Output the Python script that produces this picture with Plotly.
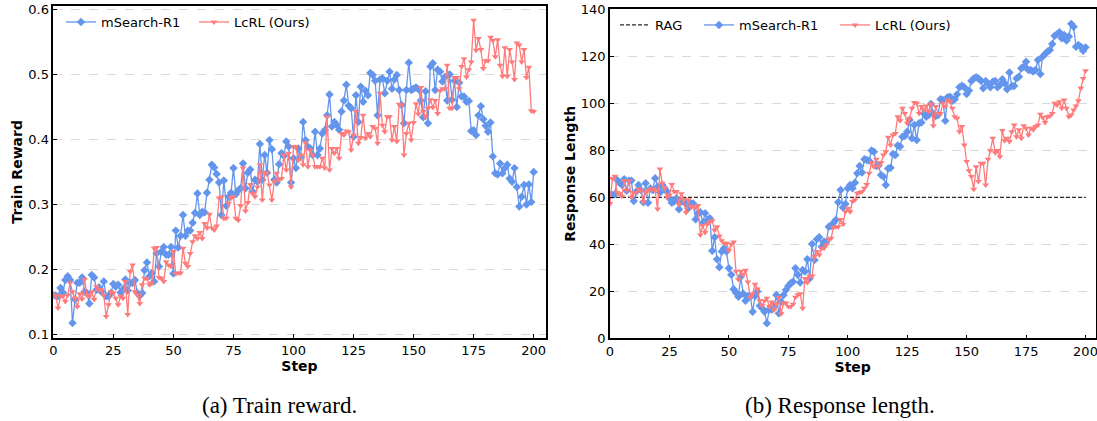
import plotly.graph_objects as go

steps = list(range(201))

reward_msearch = [
    0.161, 0.16, 0.159, 0.172, 0.165, 0.184, 0.19, 0.184, 0.118, 0.154,
    0.18, 0.18, 0.188, 0.166, 0.164, 0.148, 0.192, 0.188, 0.169, 0.173,
    0.166, 0.182, 0.159, 0.159, 0.164, 0.178, 0.174, 0.177, 0.165, 0.17,
    0.185, 0.168, 0.179, 0.18, 0.184, 0.164, 0.16, 0.164, 0.199, 0.211,
    0.19, 0.195, 0.182, 0.225, 0.205, 0.228, 0.235, 0.223, 0.223, 0.235,
    0.194, 0.26, 0.234, 0.252, 0.284, 0.252, 0.26, 0.26, 0.272, 0.287,
    0.317, 0.284, 0.289, 0.288, 0.318, 0.338, 0.361, 0.357, 0.347, 0.334,
    0.284, 0.337, 0.298, 0.312, 0.318, 0.356, 0.316, 0.322, 0.325, 0.363,
    0.325, 0.349, 0.354, 0.32, 0.338, 0.335, 0.393, 0.338, 0.376, 0.349,
    0.399, 0.385, 0.338, 0.334, 0.362, 0.379, 0.375, 0.397, 0.389, 0.334,
    0.371, 0.356, 0.386, 0.373, 0.427, 0.399, 0.389, 0.386, 0.376, 0.412,
    0.376, 0.386, 0.409, 0.414, 0.437, 0.469, 0.42, 0.427, 0.422, 0.415,
    0.443, 0.46, 0.484, 0.452, 0.448, 0.404, 0.468, 0.427, 0.481, 0.458,
    0.475, 0.468, 0.502, 0.499, 0.49, 0.437, 0.492, 0.494, 0.471, 0.49,
    0.504, 0.478, 0.492, 0.499, 0.476, 0.453, 0.425, 0.476, 0.518, 0.476,
    0.478, 0.48, 0.477, 0.46, 0.434, 0.474, 0.425, 0.512, 0.517, 0.476,
    0.507, 0.504, 0.489, 0.496, 0.46, 0.5, 0.461, 0.49, 0.45, 0.487,
    0.466, 0.466, 0.458, 0.459, 0.413, 0.414, 0.407, 0.437, 0.451, 0.431,
    0.421, 0.412, 0.426, 0.374, 0.348, 0.346, 0.363, 0.348, 0.356, 0.361,
    0.34, 0.335, 0.356, 0.327, 0.297, 0.312, 0.33, 0.3, 0.331, 0.304,
    0.35,
]

reward_lcrl = [
    0.161, 0.16, 0.141, 0.159, 0.159, 0.151, 0.161, 0.18, 0.166, 0.156,
    0.143, 0.163, 0.155, 0.185, 0.161, 0.159, 0.166, 0.154, 0.174, 0.169,
    0.169, 0.161, 0.128, 0.146, 0.166, 0.164, 0.156, 0.146, 0.159, 0.156,
    0.182, 0.131, 0.197, 0.207, 0.166, 0.161, 0.148, 0.177, 0.187, 0.186,
    0.177, 0.179, 0.233, 0.234, 0.188, 0.187, 0.182, 0.212, 0.207, 0.205,
    0.228, 0.194, 0.195, 0.195, 0.233, 0.21, 0.205, 0.225, 0.243, 0.252,
    0.248, 0.257, 0.248, 0.271, 0.264, 0.285, 0.264, 0.261, 0.267, 0.31,
    0.312, 0.279, 0.279, 0.302, 0.31, 0.312, 0.279, 0.276, 0.298, 0.356,
    0.29, 0.303, 0.331, 0.317, 0.312, 0.327, 0.361, 0.307, 0.348, 0.349,
    0.33, 0.307, 0.335, 0.348, 0.338, 0.34, 0.376, 0.353, 0.379, 0.327,
    0.389, 0.389, 0.368, 0.376, 0.361, 0.395, 0.358, 0.384, 0.376, 0.358,
    0.358, 0.358, 0.371, 0.356, 0.435, 0.353, 0.386, 0.379, 0.386, 0.371,
    0.409, 0.407, 0.413, 0.412, 0.384, 0.407, 0.443, 0.394, 0.403, 0.437,
    0.402, 0.409, 0.404, 0.42, 0.417, 0.394, 0.471, 0.422, 0.412, 0.435,
    0.435, 0.399, 0.42, 0.397, 0.454, 0.453, 0.376, 0.409, 0.425, 0.399,
    0.426, 0.455, 0.439, 0.48, 0.443, 0.434, 0.448, 0.461, 0.449, 0.46,
    0.44, 0.475, 0.478, 0.478, 0.514, 0.448, 0.448, 0.495, 0.495, 0.478,
    0.512, 0.524, 0.496, 0.507, 0.519, 0.583, 0.537, 0.555, 0.538, 0.509,
    0.521, 0.521, 0.557, 0.552, 0.527, 0.553, 0.514, 0.497, 0.541, 0.497,
    0.538, 0.519, 0.492, 0.548, 0.545, 0.519, 0.538, 0.495, 0.511, 0.444,
    0.443,
]

length_msearch = [
    61, 61, 61.3, 67.4, 66.2, 65.2, 67.7, 62.8, 67.1, 67.1,
    58.4, 62.4, 65.2, 63.1, 57.9, 66, 57.7, 63.8, 63.1, 68.1,
    64.5, 62, 65.2, 63.8, 62.4, 59.6, 57.7, 58.2, 59.6, 54.9,
    58.2, 58.2, 57.2, 55.3, 57.4, 57.4, 50.6, 53.2, 53.6, 49.2,
    53.2, 50.4, 51.1, 37.3, 43, 33.6, 30.2, 36.9, 38.3, 36.9,
    29.8, 27, 20.9, 19.4, 17.7, 26.2, 19.1, 16, 18, 17.7,
    11.3, 18, 19.9, 13.8, 12.8, 11.3, 6.4, 12.3, 12.3, 13.5,
    18.4, 10.6, 15.6, 18.4, 20.6, 22.3, 23.4, 24.1, 29.8, 27,
    23.7, 29.1, 28.4, 33.6, 25.5, 40.1, 33.3, 42.1, 43, 39,
    41.1, 41.1, 47.5, 47.8, 49.2, 50.4, 57.9, 63.1, 55.7, 57.2,
    63.8, 65.2, 63.8, 66.2, 70.2, 73.3, 70.5, 76.2, 75.9, 75.6,
    79.9, 79.4, 73.3, 73.5, 69.5, 68.8, 65.2, 72.3, 72.6, 78.4,
    78, 82, 81.6, 85.8, 86.1, 87.9, 92.9, 85.1, 90.8, 84.4,
    91.5, 91.8, 95.7, 94.3, 95, 99.7, 95.7, 94.6, 95, 101.7,
    101.4, 92.6, 102.6, 102.8, 101.1, 101.7, 103.8, 106.8, 107.5, 106.8,
    104, 105.4, 109.5, 110.6, 111.1, 110.6, 109.6, 106.4, 109.5, 108.2,
    106.8, 109.2, 109.5, 106.8, 107.8, 110.2, 108.5, 106, 113.1, 107.4,
    107.4, 110.6, 111.3, 114.9, 115.6, 117.7, 114.2, 114.2, 113.5, 114.2,
    118.4, 112.5, 119.9, 121, 122, 122.7, 125.2, 128.7, 129.4, 130.2,
    127.7, 129.1, 126.7, 128.4, 133.8, 132.6, 124.1, 124.8, 124.1, 122.4,
    123.8,
]

length_lcrl = [
    57.4, 68, 69, 62, 61.5, 60.5, 67, 63, 67, 60,
    62, 62, 63.5, 63, 58, 62, 63, 63.5, 63.5, 63,
    55, 72, 66, 64, 60, 61, 65.5, 62.5, 62.5, 57,
    61.5, 59, 53.5, 59, 56, 56, 55.5, 56.5, 44, 48,
    45, 48.5, 49.5, 50, 46, 47.5, 43.5, 41.5, 40.5, 40.5,
    37.5, 40, 41, 28.5, 25, 28.5, 27, 29, 24, 17.5,
    19, 23, 21, 16, 14, 16, 17, 13.5, 15.5, 12,
    14.5, 17.5, 10.5, 15, 15, 13.5, 13.5, 14.5, 17.5, 18.5,
    19, 12.8, 25.5, 23.7, 26.5, 26.5, 34.8, 36.9, 35.5, 38.3,
    38.3, 39.7, 42.1, 42.6, 47.2, 47.5, 47.5, 50.6, 48.5, 53.9,
    55.3, 53.9, 58.2, 58.9, 61.7, 62, 62.4, 63.8, 65.5, 70.2,
    74.8, 73, 76.2, 73, 74.8, 78, 79.4, 85.5, 82.3, 86.5,
    87.2, 94.3, 92.6, 97.9, 95.7, 91.5, 93.6, 97.9, 100.3, 100,
    95.7, 98.6, 97.2, 98.9, 96.5, 99.7, 90.4, 98.6, 95.7, 95.7,
    100, 98.6, 101.4, 100.7, 97.9, 94.3, 93.6, 87.9, 90.1, 82.3,
    75.2, 71.3, 68.8, 63.4, 73, 66.7, 74.5, 74.5, 65.2, 76.2,
    79.9, 85.1, 79, 79.9, 77.3, 88.4, 84.1, 85.1, 83.7, 87.9,
    90.8, 85.8, 88.7, 85.1, 90.4, 89.4, 86.5, 89.4, 88.7, 90.1,
    90.8, 95.3, 94, 91.8, 94.3, 94.6, 95.7, 100, 99.3, 100.7,
    97.9, 101.4, 97.9, 94.3, 95, 97.2, 98.9, 101.1, 106.4, 110.6,
    113.9,
]

rag_steps = [0, 200]
rag_value = [60, 60]

x_ticks = [0, 25, 50, 75, 100, 125, 150, 175, 200]
reward_ticks = [0.1, 0.2, 0.3, 0.4, 0.5, 0.6]
length_ticks = [0, 20, 40, 60, 80, 100, 120, 140]

BLUE = "#6495ED"
RED = "#FF7B7B"
W, H = 1097, 421

fig = go.Figure()

def add_series(x, y, name, color, symbol, xa, ya, leg, size):
    fig.add_trace(go.Scatter(
        x=x, y=y, name=name, mode="lines+markers",
        line=dict(color=color, width=1.3),
        marker=dict(color=color, symbol=symbol, size=size),
        xaxis=xa, yaxis=ya, legend=leg,
    ))

add_series(steps, reward_msearch, "mSearch-R1", BLUE, "diamond", "x", "y", "legend", 6.5)
add_series(steps, reward_lcrl, "LcRL (Ours)", RED, "triangle-down", "x", "y", "legend2", 6)

fig.add_trace(go.Scatter(
    x=rag_steps, y=rag_value, name="RAG", mode="lines",
    line=dict(color="#2a2a2a", width=1.3, dash="4px,2px"),
    xaxis="x2", yaxis="y2", legend="legend3",
))
add_series(steps, length_msearch, "mSearch-R1", BLUE, "diamond", "x2", "y2", "legend4", 6.5)
add_series(steps, length_lcrl, "LcRL (Ours)", RED, "triangle-down", "x2", "y2", "legend5", 6)

tickfont = dict(family="DejaVu Sans", size=13, color="black")
titlefont = dict(family="DejaVu Sans", size=14, color="black", weight="bold")

def xaxis(domain, anchor, rng):
    return dict(domain=domain, anchor=anchor, range=rng, tickvals=x_ticks,
                showline=True, mirror=True, linecolor="black", linewidth=1.5,
                ticks="inside", ticklen=4, tickcolor="black", showgrid=False,
                zeroline=False, tickfont=tickfont, automargin=False,
                ticklabeloverflow="allow",
                title=dict(text="Step", font=titlefont, standoff=4))

def yaxis(domain, anchor, rng, tickvals, title):
    return dict(domain=domain, anchor=anchor, range=rng, tickvals=tickvals,
                showline=True, mirror=True, linecolor="black", linewidth=1.5,
                ticks="inside", ticklen=4, tickcolor="black",
                showgrid=True, gridcolor="#d9d9d9", griddash="dash", gridwidth=0.8,
                zeroline=False, tickfont=tickfont, automargin=False,
                ticklabeloverflow="allow",
                title=dict(text=title, font=titlefont, standoff=2))

def legend_at(xpx, ypx):
    return dict(orientation="h", x=xpx / W, y=1 - ypx / H, xanchor="left", yanchor="middle",
                bgcolor="rgba(0,0,0,0)", font=dict(family="DejaVu Sans", size=13, color="black"),
                itemwidth=30)

fig.update_layout(
    width=W, height=H,
    margin=dict(l=0, r=0, t=0, b=0, autoexpand=False),
    paper_bgcolor="white", plot_bgcolor="white",
    xaxis=xaxis([53.3 / W, 545.7 / W], "y", [0, 205]),
    yaxis=yaxis([1 - 337.7 / H, 1 - 6 / H], "x", [0.0955, 0.605], reward_ticks, "Train Reward"),
    xaxis2=xaxis([610 / W, 1095.5 / W], "y2", [0, 204.2]),
    yaxis2=yaxis([1 - 338.3 / H, 1 - 9.3 / H], "x2", [0, 140], length_ticks, "Response Length"),
    legend=legend_at(61, 22),
    legend2=legend_at(194, 22),
    legend3=legend_at(615, 25),
    legend4=legend_at(699, 25),
    legend5=legend_at(835, 25),
    showlegend=True,
    annotations=[
        dict(text="(a) Train reward.", x=279 / W, y=1 - 405 / H, xref="paper", yref="paper",
             showarrow=False, xanchor="center", yanchor="middle",
             font=dict(family="Liberation Serif", size=23, color="black")),
        dict(text="(b) Response length.", x=840 / W, y=1 - 405 / H, xref="paper", yref="paper",
             showarrow=False, xanchor="center", yanchor="middle",
             font=dict(family="Liberation Serif", size=23, color="black")),
    ],
)

fig.write_html("out.html", config={"displayModeBar": False},
               post_script="document.body.style.margin='0';")
